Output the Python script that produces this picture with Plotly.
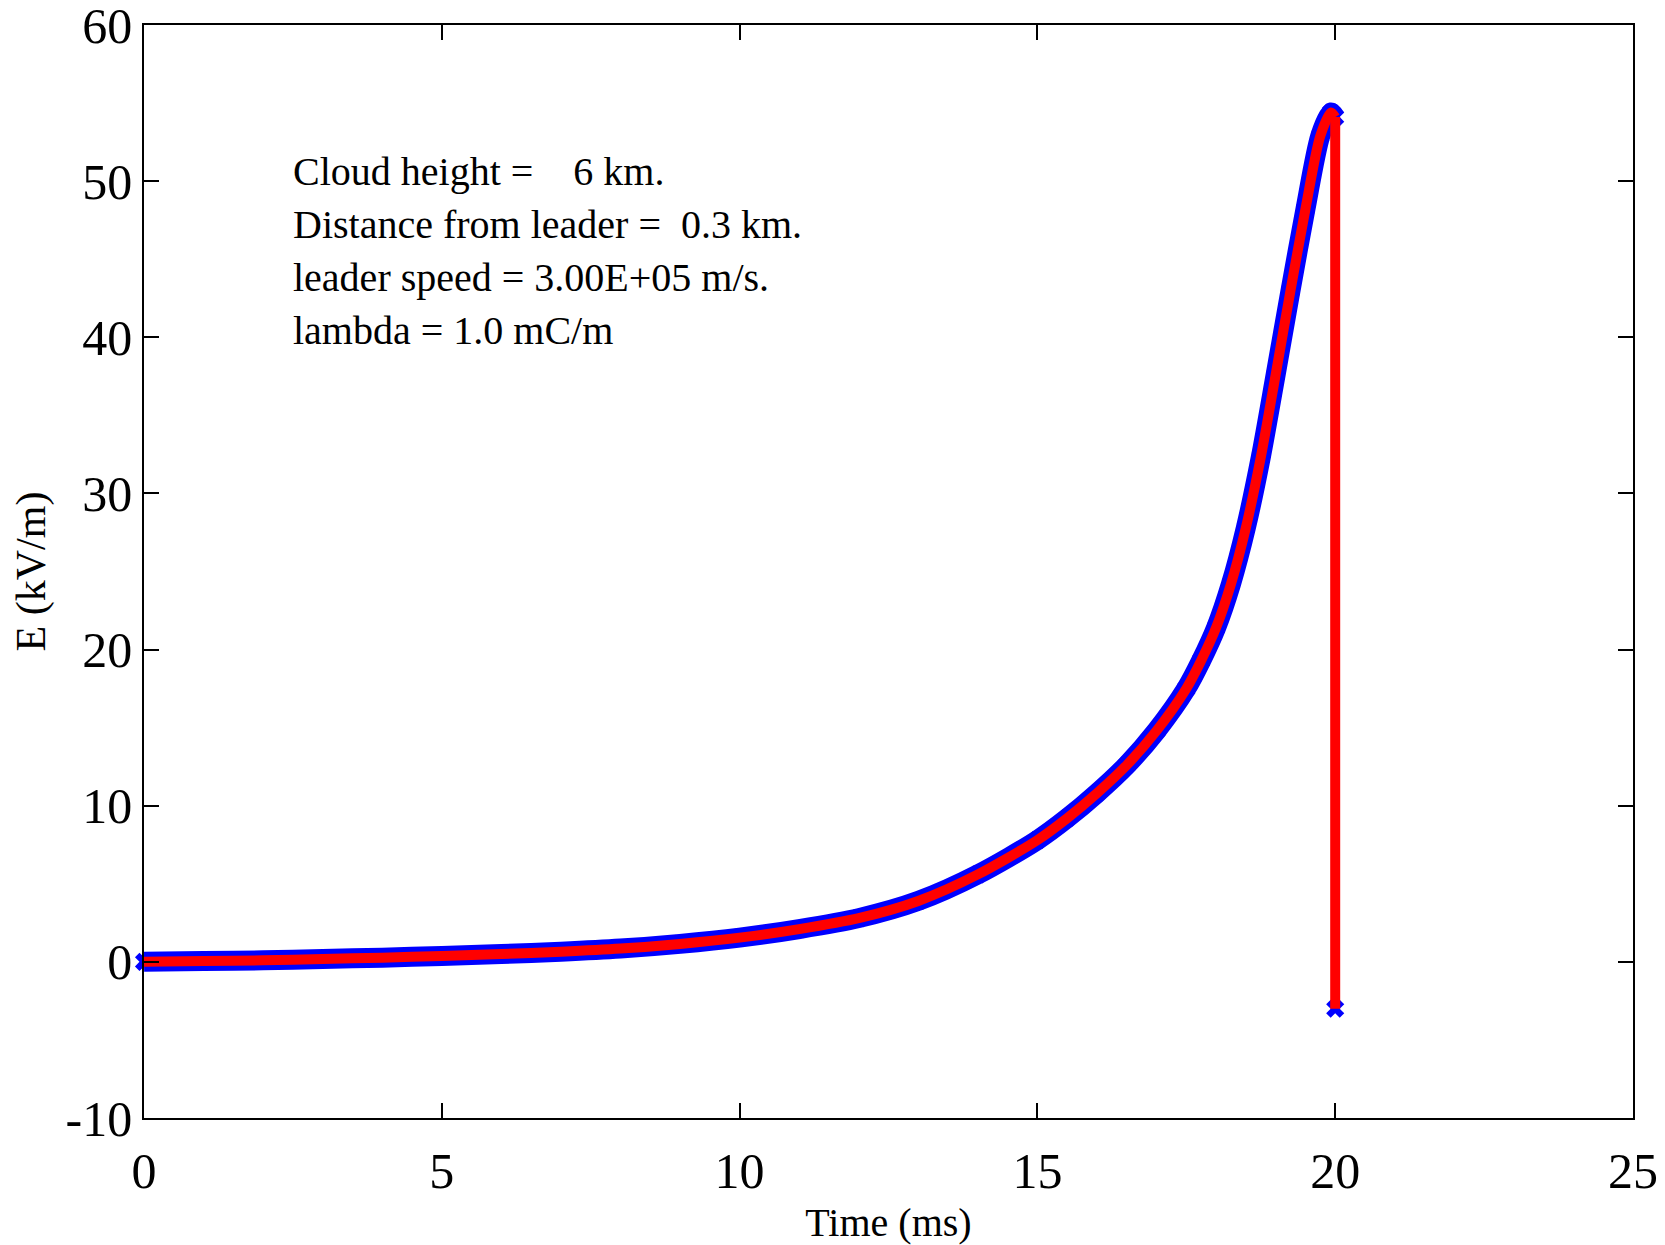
import plotly.graph_objects as go

# Data (time in ms, field in kV/m)
time_ms = [0, 1, 2, 3, 4, 5, 6, 7, 8, 9, 10, 11, 12, 13, 14, 15, 15.5, 16, 16.5,
           17, 17.5, 17.75, 18, 18.25, 18.5, 18.75, 19, 19.25, 19.5, 19.75, 19.93, 20.0]
field_kv = [0.0, 0.05, 0.1, 0.18, 0.27, 0.38, 0.5, 0.65, 0.85, 1.15, 1.55, 2.1, 2.8,
            3.9, 5.6, 7.8, 9.2, 10.8, 12.6, 14.8, 17.5, 19.3, 21.4, 24.2, 27.8, 32.3,
            37.6, 43.0, 48.2, 52.9, 54.4, 54.1]
# final drop at return-stroke instant
drop_time = [20.0, 20.0]
drop_field = [54.1, -3.0]

info_lines = [
    "Cloud height =\u00a0\u00a0\u00a0\u00a06 km.",
    "Distance from leader =\u00a0\u00a00.3 km.",
    "leader speed = 3.00E+05 m/s.",
    "lambda = 1.0 mC/m",
]

x_ticks = [0, 5, 10, 15, 20, 25]
y_ticks = [-10, 0, 10, 20, 30, 40, 50, 60]

BLUE = "#0000ff"
RED = "#ff0000"
FONT = "Liberation Serif"

fig = go.Figure()

# blue band with x markers
fig.add_trace(go.Scatter(
    x=time_ms, y=field_kv, mode="lines+markers",
    line=dict(color=BLUE, width=20, shape="spline", smoothing=0.8),
    marker=dict(symbol="x", size=16, color=BLUE, line=dict(width=0)),
    showlegend=False, hoverinfo="skip", cliponaxis=False))
fig.add_trace(go.Scatter(
    x=[drop_time[-1]], y=[drop_field[-1]], mode="markers",
    marker=dict(symbol="x", size=16, color=BLUE, line=dict(width=0)),
    showlegend=False, hoverinfo="skip"))

# red line on top
fig.add_trace(go.Scatter(
    x=time_ms, y=field_kv, mode="lines",
    line=dict(color=RED, width=10, shape="spline", smoothing=0.8),
    showlegend=False))
fig.add_trace(go.Scatter(
    x=drop_time, y=drop_field, mode="lines",
    line=dict(color=RED, width=10),
    showlegend=False))

axis_common = dict(
    showgrid=False, zeroline=False, showline=True, mirror="ticks",
    linecolor="black", linewidth=1.5, ticks="inside", ticklen=15,
    tickwidth=1.5, tickcolor="black", automargin=False,
    ticklabeloverflow="allow",
    tickfont=dict(family=FONT, size=50, color="black"),
)

fig.update_xaxes(range=[0, 25], tickvals=x_ticks, ticktext=[str(v) for v in x_ticks],
                 ticklabelstandoff=8,
                 title=dict(text="Time (ms)", font=dict(family=FONT, size=40, color="black"),
                            standoff=10),
                 **axis_common)
fig.update_yaxes(range=[-10, 60], tickvals=y_ticks, ticktext=[str(v) for v in y_ticks],
                 title=dict(text="E (kV/m)", font=dict(family=FONT, size=42, color="black"),
                            standoff=12),
                 **axis_common)

line_y = [0.8663, 0.8178, 0.7693, 0.7208]
for txt, yy in zip(info_lines, line_y):
    fig.add_annotation(text=txt, xref="paper", yref="paper", x=0.0985, y=yy,
                       xanchor="left", yanchor="middle", showarrow=False,
                       font=dict(family=FONT, size=40, color="black"))

# the page body has an 8 px margin: size the figure so the plot lands where the reference's does
fig.update_layout(
    width=1657, height=1237,
    margin=dict(l=136, r=32, t=17, b=127),
    paper_bgcolor="white", plot_bgcolor="white",
)

fig.write_html("out.html")
